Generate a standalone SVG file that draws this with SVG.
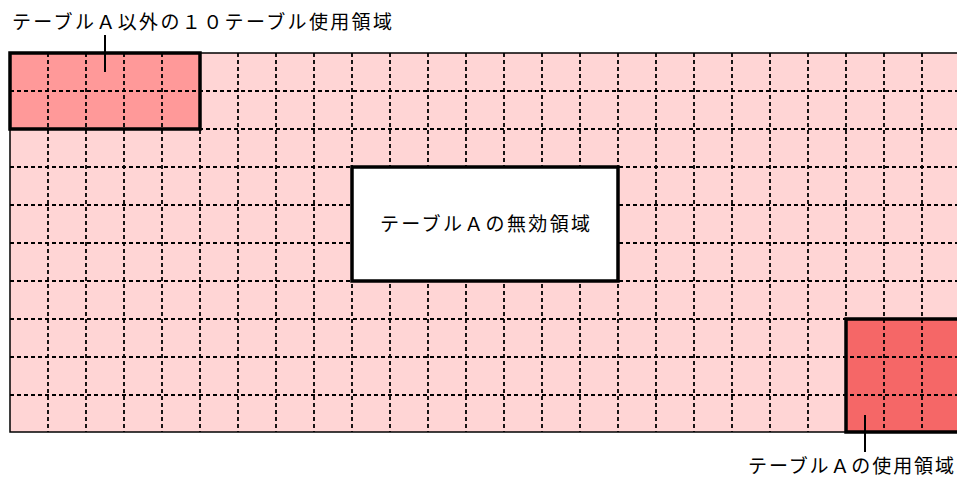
<svg xmlns="http://www.w3.org/2000/svg" width="957" height="479" viewBox="0 0 957 479">
<defs>
<style>
.t{font-family:"Noto Sans CJK JP","Noto Sans CJK SC",sans-serif;font-size:19px;fill:#000}
.g{stroke:#000;stroke-width:1.8;stroke-dasharray:4 3;fill:none}
.thick{stroke:#000;stroke-width:3.5}
.lead{stroke:#000;stroke-width:2;fill:none}
</style>
</defs>
<rect width="957" height="479" fill="#fff"/>
<g id="area">
<rect x="10" y="53" width="960" height="379" fill="#FFD5D5" stroke="#000" stroke-width="1.5"/>
</g>
<g id="used-other">
<rect x="10" y="53" width="190" height="76" fill="#FF9999"/>
</g>
<g id="used-a">
<rect x="846" y="319" width="130" height="113" fill="#F56767"/>
</g>
<g id="grid" class="g">
<path d="M48 53V432M86 53V432M124 53V432M162 53V432M200 53V432M238 53V432M276 53V432M314 53V432M352 53V432M390 53V432M428 53V432M466 53V432M504 53V432M542 53V432M580 53V432M618 53V432M656 53V432M694 53V432M732 53V432M770 53V432M808 53V432M846 53V432M884 53V432M922 53V432"/>
<path d="M10 91H957M10 129H957M10 167H957M10 205H957M10 243H957M10 281H957M10 319H957M10 357H957M10 395H957"/>
</g>
<g id="invalid-a">
<rect x="352" y="167" width="266" height="114" fill="#fff" class="thick"/>
<text class="t" x="380" y="231" textLength="210" lengthAdjust="spacing">テーブルＡの無効領域</text>
</g>
<g id="used-other-border">
<rect x="10" y="53" width="190" height="76" fill="none" class="thick"/>
</g>
<g id="used-a-border">
<rect x="846" y="319" width="130" height="113" fill="none" class="thick"/>
</g>
<g id="connectors">
<line class="lead" x1="105" y1="35" x2="105" y2="72"/>
<line class="lead" x1="865" y1="415" x2="865" y2="452"/>
</g>
<g id="label-other">
<text class="t" x="12" y="29" textLength="380" lengthAdjust="spacing">テーブルＡ以外の１０テーブル使用領域</text>
</g>
<g id="label-a">
<text class="t" x="748" y="473" textLength="206" lengthAdjust="spacing">テーブルＡの使用領域</text>
</g>
</svg>
